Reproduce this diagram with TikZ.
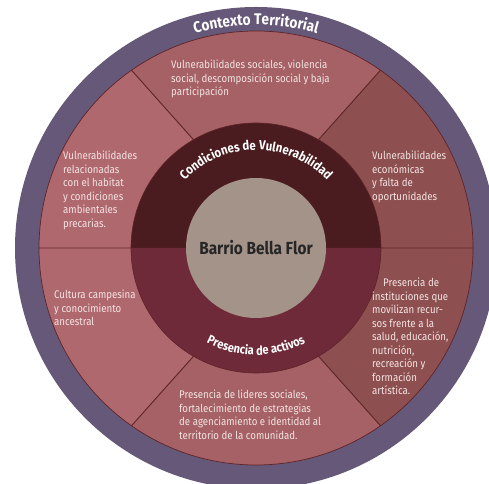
\documentclass[tikz,border=0pt]{standalone}
\usepackage{fontspec}
\setmainfont{Fira Sans}[FakeStretch=0.88]
\usetikzlibrary{decorations.text}
\definecolor{contexto}{HTML}{665878}
\definecolor{rosaclaro}{HTML}{B0686F}
\definecolor{rosamedio}{HTML}{A56165}
\definecolor{rosaoscuro}{HTML}{8E4F51}
\definecolor{condiciones}{HTML}{4A1B1F}
\definecolor{activos}{HTML}{6F2A3A}
\definecolor{barrio}{HTML}{A49389}
\definecolor{divisor}{HTML}{5E2428}
\definecolor{texto}{HTML}{F3E4E2}

\begin{document}
\begin{tikzpicture}[x=1bp,y=1bp,
  every node/.style={inner sep=0pt}]
  \tikzstyle{sectortext}=[anchor=base west,align=left,text=texto,font=\fontsize{11bp}{13.5bp}\selectfont]
  \tikzstyle{divider}=[draw=divisor,line width=0.9bp]
  \tikzstyle{ringtext}=[decorate,decoration={text along path,text align=center,text color=white}]
  \useasboundingbox (0,0) rectangle (489,484);
  \begin{scope}[shift={(256,236)}]
    \fill[contexto] (0,0) circle[radius=241];
    % sectores
    \fill[rosamedio] (0,0) -- (60:125) -- (55:217) arc[start angle=55,end angle=125,radius=217] -- (120:125) -- cycle;
    \fill[rosaclaro] (0,0) -- (120:125) -- (125:217) arc[start angle=125,end angle=180,radius=217] -- cycle;
    \fill[rosaoscuro] (0,0) -- (0:217) arc[start angle=0,end angle=55,radius=217] -- (60:125) -- cycle;
    \fill[rosaclaro] (0,0) -- (180:217) arc[start angle=180,end angle=235,radius=217] -- (240:125) -- cycle;
    \fill[rosamedio] (0,0) -- (240:125) -- (235:217) arc[start angle=235,end angle=305,radius=217] -- (300:125) -- cycle;
    \fill[rosaoscuro] (0,0) -- (300:125) -- (305:217) arc[start angle=305,end angle=360,radius=217] -- cycle;
    \path[divider] (120:125) -- (125:217) (60:125) -- (55:217) (240:125) -- (235:217) (300:125) -- (305:217) (180:217) -- (0:217);
    \draw[divisor,line width=0.7bp] (0,0) circle[radius=217];
    % anillo interior
    \fill[condiciones] (0:125) arc[start angle=0,end angle=180,radius=125] -- cycle;
    \fill[activos] (180:125) arc[start angle=180,end angle=360,radius=125] -- cycle;
    \draw[divisor,line width=0.6bp] (0,0) circle[radius=125];
    \node[circle,fill=barrio,minimum size=140bp,font=\fontsize{17.5bp}{20bp}\selectfont\bfseries,text=black!85] (barrio) at (0,0) {Barrio Bella Flor};
    % textos curvos
    \path[ringtext,decoration={text={|\fontsize{15.5bp}{18bp}\selectfont\bfseries|Contexto Territorial}}] (160:223) arc[start angle=160,end angle=20,radius=223];
    \path[ringtext,decoration={text={|\fontsize{13bp}{15bp}\selectfont\bfseries|Condiciones de Vulnerabilidad}}] (170:98) arc[start angle=170,end angle=10,radius=98];
    \path[ringtext,decoration={text={|\fontsize{12.5bp}{15bp}\selectfont\bfseries|Presencia de activos}}] (200:107) arc[start angle=200,end angle=340,radius=107];
  \end{scope}
  % textos de los sectores
  \node[sectortext] (social) at (171,388) {Vulnerabilidades sociales, violencia\\social, descomposición social y baja\\participación};
  \node[sectortext] (habitat) at (63,256.5) {Vulnerabilidades\\relacionadas\\con el habitat\\y condiciones\\ambientales\\precarias.};
  \node[sectortext] (economicas) at (372,283.5) {Vulnerabilidades\\económicas\\y falta de\\oportunidades};
  \node[sectortext] (cultura) at (54,158) {Cultura campesina\\y conocimiento\\ancestral};
  \node[sectortext] (instituciones) at (372,89) {\hspace*{11bp}Presencia de\\instituciones que\\movilizan recur-\\sos frente a la\\salud, educación,\\nutrición,\\recreación y\\formación\\artística.};
  \node[sectortext] (lideres) at (179,44.5) {Presencia de lideres sociales,\\fortalecimiento de estrategias\\de agenciamiento e identidad al\\territorio de la comunidad.};
\end{tikzpicture}
\end{document}
